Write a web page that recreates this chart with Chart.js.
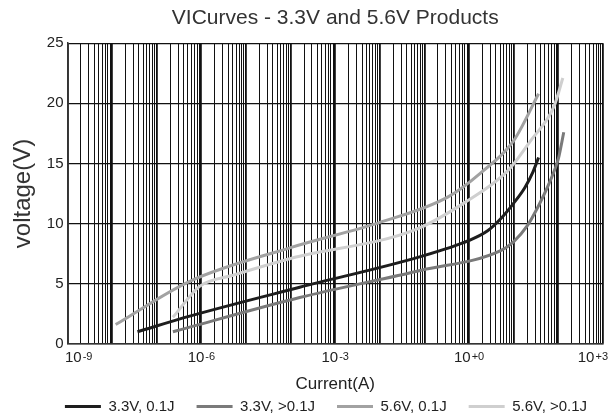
<!DOCTYPE html>
<html>
<head>
<meta charset="utf-8">
<script src="https://cdn.jsdelivr.net/npm/chart.js@4"></script>
<style>
  html, body { margin: 0; padding: 0; background: #fff; }
  #wrap { width: 613px; height: 416px; }
</style>
</head>
<body>
<div id="wrap"><canvas id="viChart"></canvas></div>
<script>
// Series: current (A) and voltage (V)
const seriesNames = ["3.3V, 0.1J", "3.3V, >0.1J", "5.6V, 0.1J", "5.6V, >0.1J"];
const seriesColors = ["#1e1e1e", "#7a7a7a", "#a2a2a2", "#cfcfcf"];

const cur33a = [3.7e-8, 5.5e-7, 1.6e-4, 0.081, 1.0, 2.6, 5.1, 10, 17.8, 27, 36];
const volt33a = [1.0, 2.3, 4.7, 7.25, 8.6, 9.4, 10.4, 11.7, 13.0, 14.3, 15.5];

const cur33b = [2.3e-7, 1.6e-4, 0.081, 5.1, 10, 20, 35, 63, 100, 132];
const volt33b = [1.0, 3.85, 6.1, 7.75, 8.5, 9.8, 11.4, 13.4, 15.4, 17.6];

const cur56a = [1.2e-8, 5.5e-7, 1e-4, 0.01, 0.33, 1.8, 10, 36];
const volt56a = [1.6, 5.2, 8.0, 10.1, 12.2, 14.2, 16.9, 20.8];

const cur56b = [2.3e-7, 9.3e-7, 5.1e-6, 1e-4, 0.063, 0.76, 7.4, 24, 79, 126];
const volt56b = [2.2, 4.8, 5.7, 7.1, 9.5, 11.7, 14.4, 16.9, 19.7, 22.1];

const currents = [cur33a, cur33b, cur56a, cur56b];
const voltages = [volt33a, volt33b, volt56a, volt56b];

// decade tick labels: base and exponent
const labelExps = [-9, -6, -3, 0, 3];
const labelExpText = ["-9", "-6", "-3", "+0", "+3"];

function pts(xs, ys) {
    return xs.map(function (x, i) { return { x: x, y: ys[i] }; });
}

function isDecade(v) {
    const e = Math.log10(v);
    return Math.abs(e - Math.round(e)) < 1e-6;
}

const font = "'Liberation Sans', Arial, sans-serif";

// title and legend sit over the plot centre, not the canvas centre
const recentre = {
    id: "recentre",
    afterLayout: function (chart) {
        const mid = (chart.chartArea.left + chart.chartArea.right) / 2;
        const t = chart.titleBlock;
        const dt = mid - (t.left + t.right) / 2;
        t.left += dt;
        t.right += dt;
        chart.legend.left += 20;
        chart.legend.right += 20;
    },
};

// draws "10" with a smaller exponent under each labelled decade
const powerLabels = {
    id: "powerLabels",
    afterDraw: function (chart) {
        const xs = chart.scales.x;
        const ctx = chart.ctx;
        ctx.save();
        ctx.fillStyle = "#222";
        ctx.textBaseline = "alphabetic";
        ctx.textAlign = "left";
        labelExps.forEach(function (e, i) {
            const px = xs.getPixelForValue(Number("1e" + e));
            ctx.font = "15px " + font;
            const wBase = ctx.measureText("10").width;
            ctx.font = "11px " + font;
            const wExp = ctx.measureText(labelExpText[i]).width;
            const w = wBase + wExp + 1;
            let left = px - w / 2;
            left = Math.max(65, Math.min(left, 608 - w));
            const base = chart.chartArea.bottom + 18;
            ctx.font = "15px " + font;
            ctx.fillText("10", left, base);
            ctx.font = "11px " + font;
            ctx.fillText(labelExpText[i], left + wBase + 1, base - 2);
        });
        ctx.restore();
    },
};

const datasets = seriesNames.map(function (name, i) {
    return {
        label: name,
        data: pts(currents[i], voltages[i]),
        borderColor: seriesColors[i],
        backgroundColor: seriesColors[i],
        borderWidth: 3,
        pointRadius: 0,
        cubicInterpolationMode: "monotone",
        fill: false,
    };
});

new Chart(document.getElementById("viChart").getContext("2d"), {
    type: "line",
    data: { datasets: datasets },
    plugins: [recentre, powerLabels],
    options: {
        responsive: true,
        maintainAspectRatio: false,
        animation: false,
        layout: { padding: { left: 9, right: 10, top: 0, bottom: -8 } },
        scales: {
            x: {
                type: "logarithmic",
                min: 1e-9,
                max: 1e3,
                afterBuildTicks: function (axis) {
                    const t = [];
                    for (let e = -9; e < 3; e++) {
                        for (let m = 1; m <= 9; m++) {
                            t.push({ value: Number(m + "e" + e) });
                        }
                    }
                    t.push({ value: 1e3 });
                    axis.ticks = t;
                },
                ticks: {
                    autoSkip: false,
                    maxRotation: 0,
                    align: "inner",
                    padding: 1,
                    color: "rgba(0,0,0,0)",
                    font: { family: font, size: 14 },
                    callback: function (value) {
                        return isDecade(value) ? "10" : "";
                    },
                },
                grid: {
                    color: "#111",
                    lineWidth: function (ctx) {
                        return ctx.tick && isDecade(ctx.tick.value) ? 1.8 : 1;
                    },
                    drawTicks: false,
                },
                border: { color: "#333", width: 1.5 },
                title: {
                    display: true,
                    text: "Current(A)",
                    color: "#222",
                    font: { family: font, size: 17 },
                    padding: { top: 12, bottom: -18 },
                },
            },
            y: {
                min: 0,
                max: 25,
                ticks: {
                    stepSize: 5,
                    padding: 4,
                    color: "#222",
                    font: { family: font, size: 15 },
                },
                grid: { color: "#111", lineWidth: 1.3, drawTicks: false },
                border: { color: "#333", width: 1.5 },
                title: {
                    display: true,
                    text: "voltage(V)",
                    color: "#333",
                    font: { family: font, size: 24 },
                    padding: { top: 0, bottom: 5 },
                },
            },
        },
        plugins: {
            title: {
                display: true,
                text: "VICurves - 3.3V and 5.6V Products",
                color: "#333",
                font: { family: font, size: 21, weight: "normal" },
                padding: { top: 6, bottom: 12 },
            },
            legend: {
                position: "bottom",
                labels: {
                    usePointStyle: true,
                    pointStyle: "line",
                    pointStyleWidth: 36,
                    color: "#222",
                    padding: 22,
                    font: { family: font, size: 15 },
                },
            },
            tooltip: { enabled: false },
        },
    },
});
</script>
</body>
</html>
